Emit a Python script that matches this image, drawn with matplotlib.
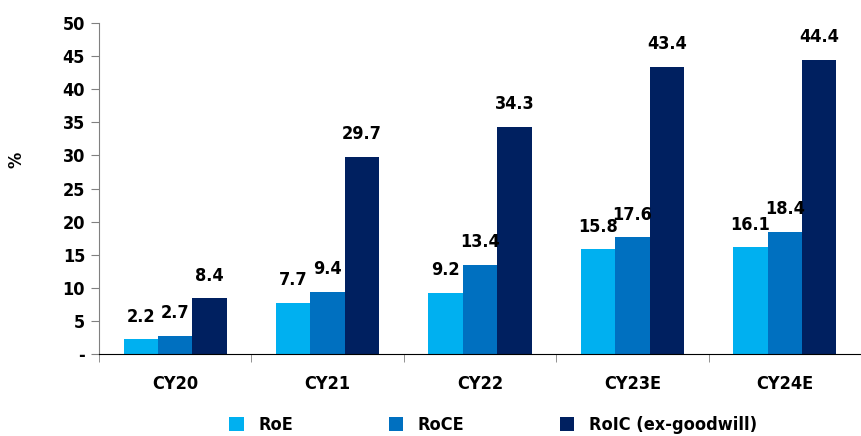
import matplotlib
matplotlib.use("Agg")
import matplotlib.pyplot as plt
import numpy as np

categories = ["CY20", "CY21", "CY22", "CY23E", "CY24E"]
roe = [2.2, 7.7, 9.2, 15.8, 16.1]
roce = [2.7, 9.4, 13.4, 17.6, 18.4]
roic = [8.4, 29.7, 34.3, 43.4, 44.4]
series_names = ["RoE", "RoCE", "RoIC (ex-goodwill)"]
colors = ["#00B0F0", "#0070C0", "#002060"]
yticks = [0, 5, 10, 15, 20, 25, 30, 35, 40, 45, 50]
ytick_labels = ["-", "5", "10", "15", "20", "25", "30", "35", "40", "45", "50"]

plt.rcParams["font.family"] = ["DejaVu Sans"]
plt.rcParams["font.stretch"] = "condensed"
plt.rcParams["font.weight"] = "bold"
FS = 13

fig = plt.figure(figsize=(8.61, 4.36), dpi=100)
ax = fig.add_axes([99/861, 1-354/436, 1-99/861, 331/436])

x = np.arange(len(categories))
w = 105/155/3
for i, (vals, c) in enumerate(zip([roe, roce, roic], colors)):
    pos = x + (i-1)*w
    ax.bar(pos, vals, width=w, color=c, label=series_names[i], zorder=2)
    for p, v in zip(pos, vals):
        ax.annotate(f"{v:.1f}", (p, v), xytext=(0, 10), textcoords="offset points",
                    ha="center", va="bottom", fontsize=FS, fontweight="bold",
                    fontstretch="condensed")

ax.set_ylim(0, 50)
ax.set_xlim(-0.5, 4.5 - 13/155)
ax.set_yticks(yticks)
ax.set_yticklabels(ytick_labels, fontsize=FS, fontweight="bold", fontstretch="condensed")
ax.set_xticks(x)
ax.set_xticklabels(categories, fontsize=FS, fontweight="bold", fontstretch="condensed")
ax.set_xticks(np.arange(-0.5, 5, 1), minor=True)
ax.tick_params(axis="x", which="major", length=0, pad=15)
ax.tick_params(axis="x", which="minor", length=6, color="#808080", direction="out")
ax.tick_params(axis="y", length=6, color="#808080", direction="out", pad=4)
for s in ["top", "right"]:
    ax.spines[s].set_visible(False)
ax.spines["left"].set_color("#808080")
ax.spines["bottom"].set_color("#000000")
ax.spines["bottom"].set_linewidth(0.8)

ax.set_ylabel("%", fontsize=FS, fontweight="bold", fontstretch="condensed")
ax.yaxis.set_label_coords(-74/762, (354-160)/331)

handles, labels = ax.get_legend_handles_labels()
leg = fig.legend(handles, labels, loc="center left", bbox_to_anchor=(213/861, 1-425/436), ncol=3,
                 frameon=False, prop={"size": FS, "weight": "bold", "stretch": "condensed"},
                 handlelength=0.8, handleheight=0.8,
                 columnspacing=5.3, handletextpad=0.8)

fig.savefig("out.png", dpi=100)
